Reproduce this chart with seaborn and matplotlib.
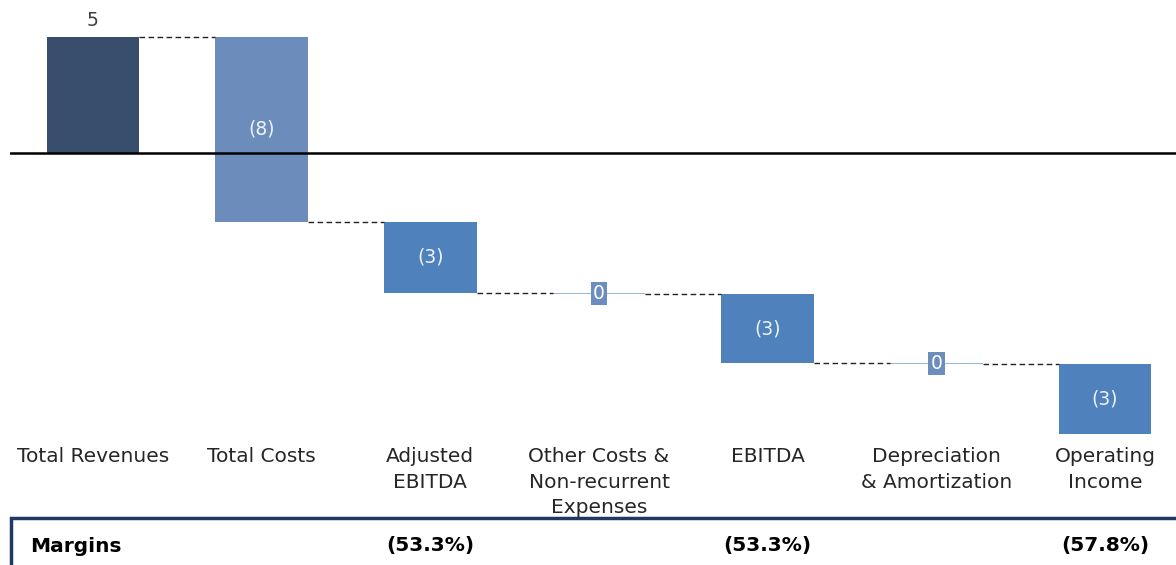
import numpy as np
import pandas as pd
import matplotlib
matplotlib.use("Agg")
import matplotlib.pyplot as plt
from matplotlib.patches import Rectangle
import seaborn as sns

categories = ["Total Revenues", "Total Costs", "Adjusted\nEBITDA",
              "Other Costs &\nNon-recurrent\nExpenses", "EBITDA",
              "Depreciation\n& Amortization", "Operating\nIncome"]
deltas = [5.0, -7.97, -3.06, -0.05, -2.97, -0.05, -3.02]
value_labels = ["5", "(8)", "(3)", "0", "(3)", "0", "(3)"]
bar_colors = ["#394d6c", "#6c8dbb", "#4f81bd", "#9bb5de", "#4f81bd", "#9bb5de", "#4f81bd"]
margin_labels = ["", "", "(53.3%)", "", "(53.3%)", "", "(57.8%)"]

starts = [0.0]
for d in deltas[:-1]:
    starts.append(starts[-1] + d)
ends = [s + d for s, d in zip(starts, deltas)]

df = pd.DataFrame({"category": categories, "delta": deltas})

sns.set_theme(style="white")
plt.rcParams["font.family"] = ["DejaVu Sans"]

W, H = 1176, 565
fig = plt.figure(figsize=(W / 100, H / 100), dpi=100)
left_px, right_px, top_px, bot_px = 10, 1176, 0, 440
ax = fig.add_axes([left_px / W, 1 - bot_px / H, (right_px - left_px) / W, (bot_px - top_px) / H])

bw = 0.55
sns.barplot(data=df, x="category", y="delta", order=categories, bottom=starts,
            width=bw, errorbar=None, ax=ax, color="#4f81bd", linewidth=0)
for p, c in zip(ax.patches, bar_colors):
    p.set_facecolor(c)
    p.set_edgecolor("none")

px_per_unit = 23.2
ax.set_ylim(-(bot_px - 153) / px_per_unit, (153 - top_px) / px_per_unit)
ax.set_xlim(-(93 - left_px) / 168.67, (1176 - 93) / 168.67)

ax.axhline(0, color="black", lw=1.8, zorder=3)

# connectors
for i in range(len(deltas) - 1):
    ax.plot([i + bw / 2, i + 1 - bw / 2], [ends[i], ends[i]], color="#222222",
            lw=1.0, ls=(0, (4, 2.5)), zorder=2)

# value labels
for i, (s, e, lab) in enumerate(zip(starts, ends, value_labels)):
    if deltas[i] > 0:
        ax.text(i, e + 0.3, lab, ha="center", va="bottom", fontsize=13.5, color="#404040")
    elif abs(deltas[i]) < 0.5:
        ax.text(i, (s + e) / 2, lab, ha="center", va="center", fontsize=13.5, color="white",
                bbox=dict(boxstyle="square,pad=0.12", fc="#6c8ebf", ec="none"), zorder=4)
    else:
        ax.text(i, (s + e) / 2, lab, ha="center", va="center", fontsize=13.5, color="#eef2f8")

ax.set_xticks(range(len(categories)))
ax.set_xticklabels(categories, fontsize=14.5, color="#262626", linespacing=1.45)
ax.tick_params(axis="x", length=0, pad=5)
ax.set_xlabel("")
ax.set_ylabel("")
ax.set_yticks([])
for sp in ax.spines.values():
    sp.set_visible(False)

# margins box
box = Rectangle((11 / W, 0 - 0.05), 1.2, (H - 518) / H + 0.05, transform=fig.transFigure,
                fill=False, ec="#1f3864", lw=2.5, clip_on=False)
fig.add_artist(box)
fig.text(30 / W, 1 - 546 / H, "Margins", fontsize=14.5, fontweight="bold",
         color="black", ha="left", va="center")
for i, m in enumerate(margin_labels):
    if m:
        xfig = (93 + 168.67 * i) / W
        fig.text(xfig, 1 - 546 / H, m, fontsize=14.5, fontweight="bold",
                 color="black", ha="center", va="center")

fig.savefig("out.png", dpi=100)
